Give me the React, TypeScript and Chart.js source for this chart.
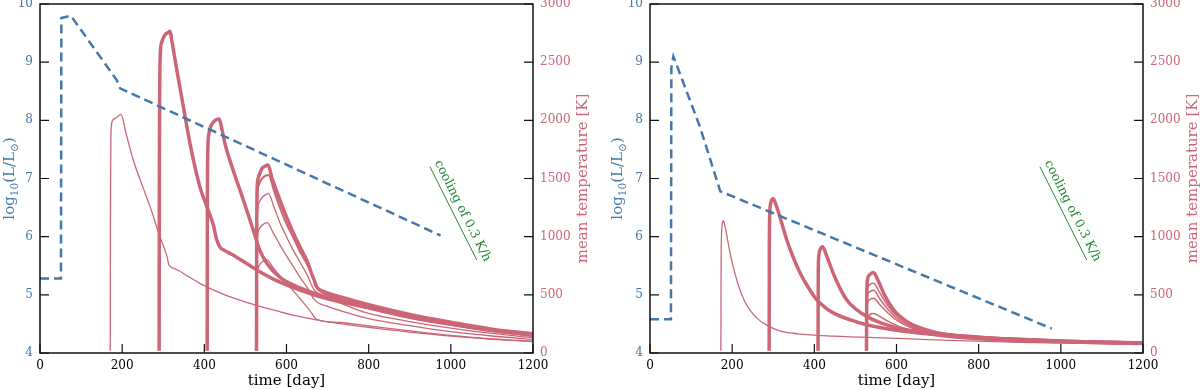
import React, { useEffect, useRef } from 'react';
import { Chart, registerables } from 'chart.js';

Chart.register(...registerables);

const FONT = "'DejaVu Serif', 'Liberation Serif', serif";
const BLUE = '#4477AA';
const RED = '#CC6677';
const GREEN = '#228833';

type Pt = [number, number];

// ---- axis ranges / tick steps ----
const X_MIN = 0, X_MAX = 1200, X_STEP = 200;
const L_MIN = 4, L_MAX = 10, L_STEP = 1;
const T_MIN = 0, T_MAX = 3000, T_STEP = 500;

const X_TITLE = 'time [day]';
const T_TITLE = 'mean temperature [K]';
const COOLING_TEXT = 'cooling of 0.3 K/h';

// cooling guide line [day, K]
const coolingLine: Pt[] = [[949, 1602], [1063, 800]];

// ---- LEFT PANEL ----
const leftLum: Pt[] = [[0, 5.28], [51, 5.28], [52, 9.76], [75, 9.8], [187, 8.69], [195, 8.55], [975, 6.02]];

const leftThin1: Pt[] = [[171, 20], [171.5, 1200], [172.5, 1800], [174, 1960], [178, 2005], [186, 2025], [197, 2052], [210, 1880], [227, 1659], [250, 1430], [268, 1258], [292, 1000], [304, 885], [309, 830], [314, 756], [330, 722], [360, 660], [389, 599], [450, 500], [511, 427], [584, 355], [633, 312], [700, 268], [800, 220], [900, 180], [1000, 145], [1100, 118], [1200, 97]];
const leftPeak2: Pt[] = [[290, 20], [290.5, 1500], [291.5, 2300], [293, 2580], [297, 2680], [304, 2734], [312, 2755], [316, 2765], [322, 2660], [333, 2433], [349, 2117], [365, 1802], [389, 1430], [406, 1258], [422, 1100], [430, 975], [438, 910], [450, 880], [470, 842], [500, 775], [535, 699], [568, 635], [633, 541], [700, 465], [800, 388], [900, 308], [1000, 246], [1100, 193], [1200, 152]];
const leftPeak3: Pt[] = [[407, 20], [407.5, 1300], [408.5, 1750], [411, 1880], [416, 1950], [422, 1985], [436, 2011], [443, 1920], [450, 1802], [470, 1573], [495, 1315], [519, 1057], [535, 885], [552, 771], [584, 650], [633, 560], [700, 478], [800, 395], [900, 314], [1000, 252], [1100, 198], [1200, 156]];
const leftGroupA: Pt[] = [[527, 20], [527.5, 1000], [528.5, 1400], [531, 1500], [540, 1585], [548, 1605], [555, 1615], [565, 1500], [584, 1315], [600, 1170], [617, 1029], [633, 910], [649, 799], [661, 685], [668, 620], [673, 570], [690, 530], [730, 484], [800, 415], [900, 332], [1000, 265], [1100, 205], [1200, 165]];
const leftGroupB: Pt[] = [[527, 20], [527.5, 900], [528.5, 1300], [532, 1440], [542, 1505], [556, 1530], [570, 1390], [584, 1250], [600, 1110], [617, 990], [633, 870], [649, 770], [665, 650], [673, 565], [690, 515], [730, 465], [800, 385], [900, 305], [1000, 243], [1100, 190], [1200, 150]];
const leftGroupC: Pt[] = [[527, 20], [527.5, 800], [528.5, 1150], [533, 1290], [543, 1345], [556, 1370], [570, 1250], [584, 1120], [600, 1000], [617, 880], [633, 780], [649, 680], [668, 540], [690, 490], [730, 430], [800, 340], [900, 270], [1000, 214], [1100, 168], [1200, 132]];
const leftGroupD: Pt[] = [[527, 20], [527.5, 700], [528.5, 950], [533, 1060], [543, 1105], [553, 1120], [568, 1030], [584, 930], [600, 835], [617, 740], [633, 650], [649, 570], [670, 450], [700, 400], [730, 365], [800, 295], [900, 235], [1000, 183], [1100, 146], [1200, 117]];
const leftGroupE: Pt[] = [[527, 20], [527.5, 500], [529, 680], [535, 760], [543, 790], [552, 800], [570, 720], [600, 600], [630, 480], [660, 350], [673, 290], [730, 262], [800, 232], [900, 190], [1000, 152], [1100, 122], [1200, 102]];

// ---- RIGHT PANEL ----
const rightLum: Pt[] = [[0, 4.58], [51, 4.58], [52, 8.9], [57, 9.1], [122, 7.88], [171, 6.78], [978, 4.42]];

const rightThin1: Pt[] = [[172.5, 20], [173, 700], [174, 1000], [176, 1110], [178.5, 1137], [183, 1080], [189, 970], [195, 857], [207, 680], [219, 541], [231, 440], [243, 370], [260, 300], [284, 240], [316, 190], [360, 165], [446, 145], [608, 125], [730, 108], [900, 92], [1200, 75]];
const rightPeak2: Pt[] = [[290, 20], [290.5, 900], [291.5, 1200], [294, 1290], [300, 1325], [308, 1260], [316, 1172], [333, 971], [350, 810], [365, 690], [385, 565], [406, 456], [425, 395], [446, 345], [490, 282], [527, 243], [608, 192], [700, 158], [800, 132], [1000, 102], [1200, 84]];
const rightPeak3: Pt[] = [[409, 20], [409.5, 650], [411, 840], [415, 895], [420, 914], [430, 835], [446, 685], [462, 560], [479, 456], [500, 380], [527, 315], [560, 262], [608, 212], [700, 165], [800, 136], [1000, 104], [1200, 86]];
const rightGroupA: Pt[] = [[527, 20], [527.5, 450], [529, 620], [534, 670], [544, 692], [555, 625], [570, 505], [585, 412], [600, 342], [625, 272], [650, 226], [700, 173], [800, 136], [1000, 102], [1200, 84]];
const rightGroupB: Pt[] = [[527, 20], [527.5, 400], [529, 540], [534, 585], [544, 600], [560, 512], [580, 402], [600, 322], [640, 232], [700, 167], [800, 130], [1000, 98], [1200, 80]];
const rightGroupC: Pt[] = [[527, 20], [527.5, 360], [529, 490], [534, 525], [544, 540], [560, 462], [580, 372], [600, 302], [640, 222], [700, 161], [800, 125], [1000, 95], [1200, 78]];
const rightGroupD: Pt[] = [[527, 20], [527.5, 320], [529, 420], [534, 455], [544, 470], [560, 412], [580, 342], [600, 282], [640, 210], [700, 156], [800, 120], [1000, 92], [1200, 76]];
const rightGroupE: Pt[] = [[527, 20], [527.5, 240], [529, 300], [535, 330], [544, 340], [560, 312], [580, 272], [600, 237], [640, 187], [700, 146], [800, 114], [1000, 88], [1200, 73]];

const toXY = (pts: Pt[]) => pts.map(([x, y]) => ({ x, y }));

const redLine = (pts: Pt[], width: number) => ({
  data: toXY(pts),
  borderColor: RED,
  backgroundColor: RED,
  borderWidth: width,
  pointRadius: 0,
  fill: false,
  cubicInterpolationMode: 'monotone' as const,
  yAxisID: 'y2',
});

const blueLine = (pts: Pt[]) => ({
  data: toXY(pts),
  borderColor: BLUE,
  backgroundColor: BLUE,
  borderWidth: 2.5,
  borderDash: [9, 5],
  pointRadius: 0,
  fill: false,
  tension: 0,
  yAxisID: 'y',
});

function drawRich(ctx: CanvasRenderingContext2D, pieces: { t: string; s: number; dy: number }[], cx: number, cy: number, color: string) {
  ctx.save();
  ctx.translate(cx, cy);
  ctx.rotate(-Math.PI / 2);
  ctx.fillStyle = color;
  ctx.textBaseline = 'alphabetic';
  ctx.textAlign = 'left';
  let total = 0;
  const widths = pieces.map((p) => {
    ctx.font = `${p.s}px ${FONT}`;
    const w = ctx.measureText(p.t).width;
    total += w;
    return w;
  });
  let x = -total / 2;
  pieces.forEach((p, i) => {
    ctx.font = `${p.s}px ${FONT}`;
    ctx.fillText(p.t, x, 5 + p.dy);
    x += widths[i];
  });
  ctx.restore();
}

const decor = {
  id: 'decor',
  afterDatasetsDraw(chart: any, _args: any, opts: any) {
    const { ctx, chartArea: a, scales } = chart;
    ctx.save();
    // cooling guide
    const p0x = scales.x.getPixelForValue(coolingLine[0][0]);
    const p0y = scales.y2.getPixelForValue(coolingLine[0][1]);
    const p1x = scales.x.getPixelForValue(coolingLine[1][0]);
    const p1y = scales.y2.getPixelForValue(coolingLine[1][1]);
    ctx.strokeStyle = GREEN;
    ctx.lineWidth = 1;
    ctx.beginPath();
    ctx.moveTo(p0x, p0y);
    ctx.lineTo(p1x, p1y);
    ctx.stroke();
    const ang = Math.atan2(p1y - p0y, p1x - p0x);
    ctx.save();
    ctx.translate((p0x + p1x) / 2, (p0y + p1y) / 2);
    ctx.rotate(ang);
    ctx.fillStyle = GREEN;
    ctx.font = `12.5px ${FONT}`;
    ctx.textAlign = 'center';
    ctx.textBaseline = 'alphabetic';
    ctx.fillText(COOLING_TEXT, 2, -6);
    ctx.restore();

    // frame
    ctx.strokeStyle = '#111';
    ctx.lineWidth = 1.5;
    ctx.strokeRect(a.left, a.top, a.right - a.left, a.bottom - a.top);
    // inward ticks
    ctx.lineWidth = 1.2;
    ctx.beginPath();
    scales.x.ticks.forEach((t: any) => {
      const px = scales.x.getPixelForValue(t.value);
      ctx.moveTo(px, a.bottom);
      ctx.lineTo(px, a.bottom - 9);
    });
    scales.y.ticks.forEach((t: any) => {
      const py = scales.y.getPixelForValue(t.value);
      ctx.moveTo(a.left, py);
      ctx.lineTo(a.left + 9, py);
    });
    scales.y2.ticks.forEach((t: any) => {
      const py = scales.y2.getPixelForValue(t.value);
      ctx.moveTo(a.right, py);
      ctx.lineTo(a.right - 9, py);
    });
    ctx.stroke();

    // y titles
    const cy = (a.top + a.bottom) / 2;
    drawRich(ctx, [
      { t: 'log', s: 15, dy: 0 },
      { t: '10', s: 10.5, dy: 4 },
      { t: '(L/L', s: 15, dy: 0 },
      { t: '⊙', s: 10.5, dy: 4 },
      { t: ')', s: 15, dy: 0 },
    ], opts.yTitleX, cy, BLUE);
    drawRich(ctx, [{ t: T_TITLE, s: 15, dy: 0 }], opts.y2TitleX, cy, RED);
    ctx.restore();
  },
};

type PanelProps = {
  lum: Pt[];
  reds: { pts: Pt[]; w: number }[];
  leftW: number;
  rightW: number;
  yTitleX: number;
  y2TitleX: number;
};

function Panel({ lum, reds, leftW, rightW, yTitleX, y2TitleX }: PanelProps) {
  const ref = useRef<HTMLCanvasElement>(null);
  useEffect(() => {
    const tickFont = { family: FONT, size: 12 };
    const chart = new Chart(ref.current as HTMLCanvasElement, {
      type: 'line',
      data: {
        datasets: [blueLine(lum), ...reds.map((r) => redLine(r.pts, r.w))] as any,
      },
      options: {
        animation: false,
        responsive: false,
        maintainAspectRatio: false,
        layout: { padding: { top: 4, left: 0, right: 0, bottom: 0 } },
        plugins: {
          legend: { display: false },
          tooltip: { enabled: false },
          decor: { yTitleX, y2TitleX },
        } as any,
        scales: {
          x: {
            type: 'linear',
            min: X_MIN,
            max: X_MAX,
            ticks: { stepSize: X_STEP, color: '#000', font: tickFont, padding: 6, maxRotation: 0, autoSkip: false, callback: (v: any) => String(v) },
            grid: { display: false, drawTicks: false },
            border: { display: false },
            title: { display: true, text: X_TITLE, color: '#000', font: { family: FONT, size: 15 }, padding: 0 },
            afterFit: (s: any) => { s.height = 37; s.paddingLeft = 0; s.paddingRight = 0; },
          },
          y: {
            type: 'linear',
            position: 'left',
            min: L_MIN,
            max: L_MAX,
            ticks: { stepSize: L_STEP, color: BLUE, font: tickFont, padding: 7, autoSkip: false, callback: (v: any) => String(v) },
            grid: { display: false, drawTicks: false },
            border: { display: false },
            afterFit: (s: any) => { s.width = leftW; s.paddingTop = 0; s.paddingBottom = 0; },
          },
          y2: {
            type: 'linear',
            position: 'right',
            min: T_MIN,
            max: T_MAX,
            ticks: { stepSize: T_STEP, color: RED, font: tickFont, padding: 7, autoSkip: false, callback: (v: any) => String(v) },
            grid: { display: false, drawTicks: false },
            border: { display: false },
            afterFit: (s: any) => { s.width = rightW; s.paddingTop = 0; s.paddingBottom = 0; },
          },
        } as any,
      },
      plugins: [decor],
    });
    return () => chart.destroy();
  }, []);
  return <canvas ref={ref} width={600} height={390} style={{ display: 'block', width: 600, height: 390 }} />;
}

export default function App() {
  return (
    <div style={{ position: 'absolute', left: 0, top: 0, width: 1200, height: 390, display: 'flex', background: '#fff' }}>
      <Panel
        lum={leftLum}
        reds={[
          { pts: leftThin1, w: 1.3 },
          { pts: leftPeak2, w: 3.5 },
          { pts: leftPeak3, w: 3.5 },
          { pts: leftGroupA, w: 3.5 },
          { pts: leftGroupB, w: 2 },
          { pts: leftGroupC, w: 1.3 },
          { pts: leftGroupD, w: 1.3 },
          { pts: leftGroupE, w: 1.3 },
        ]}
        leftW={40}
        rightW={67}
        yTitleX={9}
        y2TitleX={582}
      />
      <Panel
        lum={rightLum}
        reds={[
          { pts: rightThin1, w: 1.3 },
          { pts: rightPeak2, w: 3.5 },
          { pts: rightPeak3, w: 3.5 },
          { pts: rightGroupA, w: 3.5 },
          { pts: rightGroupB, w: 1.5 },
          { pts: rightGroupC, w: 1.5 },
          { pts: rightGroupD, w: 1.5 },
          { pts: rightGroupE, w: 1.5 },
        ]}
        leftW={50}
        rightW={57}
        yTitleX={17}
        y2TitleX={592}
      />
    </div>
  );
}
